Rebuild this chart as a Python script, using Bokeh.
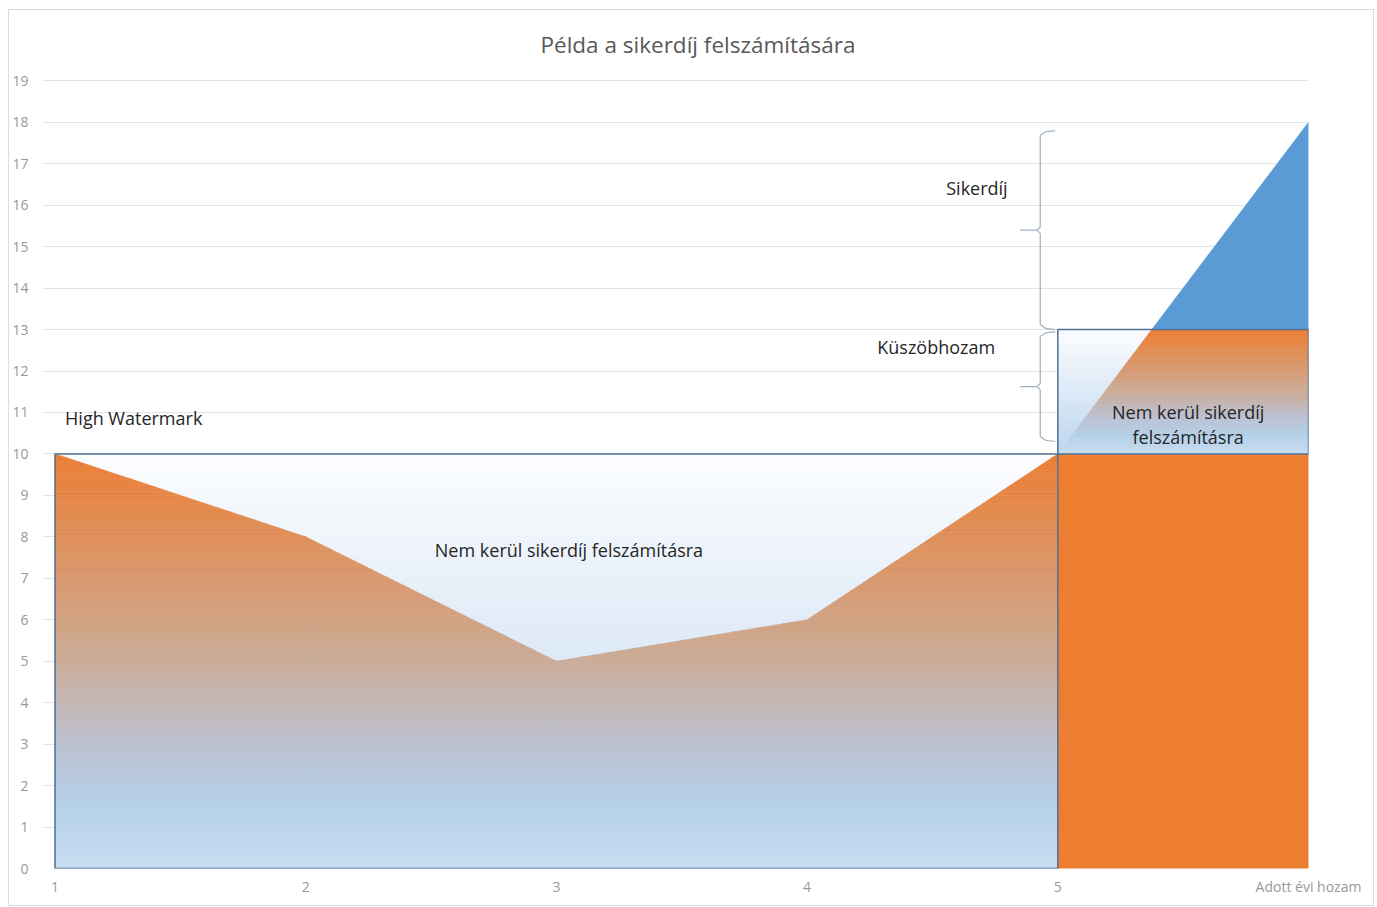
import numpy as np
from bokeh.plotting import figure
from bokeh.models import Range1d, FixedTicker, Label
from bokeh.embed import file_html
from bokeh.resources import INLINE

# ---- data ----
periods = [1, 2, 3, 4, 5, 6]
values = [10, 8, 5, 6, 10, 18]
x_tick_labels = ["1", "2", "3", "4", "5", "Adott évi hozam"]
y_ticks = list(range(0, 20))
high_watermark = 10
threshold = 13

title_text = "Példa a sikerdíj felszámítására"
FONT = "Open Sans"

ORANGE = (237, 125, 49)
BLUE = (91, 155, 213)

area_stops = [(0.0, (200, 221, 241)), (0.15, (181, 209, 233)), (0.3, (188, 193, 209)),
              (0.5, (203, 172, 152)), (0.75, (220, 148, 100)), (1.0, (236, 126, 52))]
bg_stops = [(0.0, (188, 213, 238)), (1.0, (252, 253, 255))]


def lerp(stops, t):
    t = min(max(t, 0.0), 1.0)
    for (t0, c0), (t1, c1) in zip(stops[:-1], stops[1:]):
        if t0 <= t <= t1:
            f = (t - t0) / (t1 - t0) if t1 > t0 else 0
            c = [round(a + (b - a) * f) for a, b in zip(c0, c1)]
            return "#%02x%02x%02x" % tuple(c)
    return "#%02x%02x%02x" % stops[-1][1]


def hexc(c):
    return "#%02x%02x%02x" % c


def clip_half(poly, axis, val, keep_greater):
    out = []
    n = len(poly)
    if n == 0:
        return out

    def inside(p):
        return p[axis] >= val if keep_greater else p[axis] <= val

    for i in range(n):
        cur = poly[i]
        prev = poly[i - 1]
        ci, pi = inside(cur), inside(prev)
        if ci != pi:
            t = (val - prev[axis]) / (cur[axis] - prev[axis])
            out.append((prev[0] + (cur[0] - prev[0]) * t, prev[1] + (cur[1] - prev[1]) * t))
        if ci:
            out.append(cur)
    return out


def clip_box(poly, x0, x1, y0, y1):
    p = clip_half(poly, 0, x0, True)
    p = clip_half(p, 0, x1, False)
    p = clip_half(p, 1, y0, True)
    p = clip_half(p, 1, y1, False)
    return p


x_split = periods[-2]
x_end = periods[-1]
# convex trapezoids under each linear segment of the series
traps = [[(xa, 0), (xa, ya), (xb, yb), (xb, 0)]
         for xa, ya, xb, yb in zip(periods[:-1], values[:-1], periods[1:], values[1:])]
traps_a = [t for t in traps if t[0][0] < x_split]
traps_b = [t for t in traps if t[0][0] >= x_split]

patch_xs, patch_ys, patch_cols = [], [], []


def add(poly, col):
    if len(poly) >= 3:
        patch_xs.append([p[0] for p in poly])
        patch_ys.append([p[1] for p in poly])
        patch_cols.append(col)


step = 0.1
n = int(round(high_watermark / step))
m = int(round((threshold - high_watermark) / step))

# background gradients (boxes)
for i in range(n):
    y0, y1 = i * step, (i + 1) * step
    add([(periods[0], y0), (x_split, y0), (x_split, y1), (periods[0], y1)],
        lerp(bg_stops, (y0 + y1) / 2 / high_watermark))
for i in range(m):
    y0, y1 = high_watermark + i * step, high_watermark + (i + 1) * step
    t = ((y0 + y1) / 2 - high_watermark) / (threshold - high_watermark)
    add([(x_split, y0), (x_end, y0), (x_end, y1), (x_split, y1)], lerp(bg_stops, t))

# area gradient (periods 1..5)
for i in range(n):
    y0, y1 = i * step, (i + 1) * step
    for tr in traps_a:
        add(clip_box(tr, periods[0], x_split, y0, y1),
            lerp(area_stops, (y0 + y1) / 2 / high_watermark))
# last period
for tr in traps_b:
    add(clip_box(tr, x_split, x_end, 0, high_watermark), hexc(ORANGE))
    for i in range(m):
        y0, y1 = high_watermark + i * step, high_watermark + (i + 1) * step
        t = ((y0 + y1) / 2 - high_watermark) / (threshold - high_watermark)
        add(clip_box(tr, x_split, x_end, y0, y1), lerp(area_stops, t))
    add(clip_box(tr, x_split, x_end, threshold, max(values)), hexc(BLUE))

p = figure(width=1366, height=897, x_range=Range1d(0.95, 6.0), y_range=Range1d(0, 19.2),
           output_backend="svg", toolbar_location=None,
           min_border_left=33, min_border_right=67, min_border_top=62, min_border_bottom=39)
p.outline_line_color = None
p.background_fill_color = "white"
p.styles = {"margin-left": "8px", "margin-top": "9px", "border": "1px solid #dcdcdc"}

p.title.text = title_text
p.title.align = "left"
p.title.offset = 498
p.title.text_font = FONT
p.title.text_font_size = "22.5px"
p.title.text_font_style = "normal"
p.title.text_color = "#595959"
p.title.standoff = 26

p.xgrid.visible = False
p.ygrid.ticker = FixedTicker(ticks=y_ticks)
p.ygrid.grid_line_color = "#e4e4e4"

for ax in (p.xaxis[0], p.yaxis[0]):
    ax.axis_line_color = None
    ax.major_tick_line_color = None
    ax.minor_tick_line_color = None
    ax.major_tick_out = 0
    ax.major_tick_in = 0
    ax.minor_tick_out = 0
    ax.minor_tick_in = 0
    ax.major_label_text_font = FONT
    ax.major_label_text_font_size = "14px"
    ax.major_label_text_color = "#999999"
p.yaxis[0].ticker = FixedTicker(ticks=y_ticks)
p.yaxis[0].major_label_standoff = 14
p.xaxis[0].ticker = FixedTicker(ticks=periods)
p.xaxis[0].major_label_overrides = {x: lbl for x, lbl in zip(periods, x_tick_labels)}
p.xaxis[0].major_label_standoff = 8

p.patches(patch_xs, patch_ys, fill_color=patch_cols, line_color=patch_cols, line_width=0.6)

# box outlines
box_col = "#4f7193"
p.quad(left=[periods[0], x_split], right=[x_split, x_end], bottom=[0, high_watermark],
       top=[high_watermark, threshold], fill_color=None, line_color=box_col, line_width=1.5)

# braces
bx = x_split - 0.07
brace_col = "#a3b1c2"


def brace(y0, y1):
    mid = (y0 + y1) / 2
    upper = ([bx + 0.06, bx + 0.02, bx, bx, bx - 0.012, bx - 0.08],
             [y1, y1 - 0.03, y1 - 0.12, mid + 0.08, mid, mid])
    lower = ([bx - 0.012, bx, bx, bx + 0.02, bx + 0.06],
             [mid, mid - 0.08, y0 + 0.12, y0 + 0.03, y0])
    return [upper, lower]


segs = brace(threshold, max(values) - 0.2) + brace(high_watermark + 0.3, threshold - 0.05)
p.multi_line([s[0] for s in segs], [s[1] for s in segs], line_color=brace_col, line_width=1.2)

txt = "#262626"
labels = [
    Label(x=periods[0] + 0.04, y=high_watermark + 0.87, text="High Watermark",
          text_align="left", text_baseline="middle"),
    Label(x=3.05, y=7.69, text="Nem kerül sikerdíj felszámításra",
          text_align="center", text_baseline="middle"),
    Label(x=4.80, y=16.41, text="Sikerdíj", text_align="right", text_baseline="middle"),
    Label(x=4.75, y=12.58, text="Küszöbhozam", text_align="right", text_baseline="middle"),
    Label(x=5.52, y=11.01, text="Nem kerül sikerdíj", text_align="center", text_baseline="middle"),
    Label(x=5.52, y=10.41, text="felszámításra", text_align="center", text_baseline="middle"),
]
for lb in labels:
    lb.text_font = FONT
    lb.text_font_size = "18px"
    lb.text_color = txt
    p.add_layout(lb)

open("out.html", "w").write(file_html(p, INLINE))
